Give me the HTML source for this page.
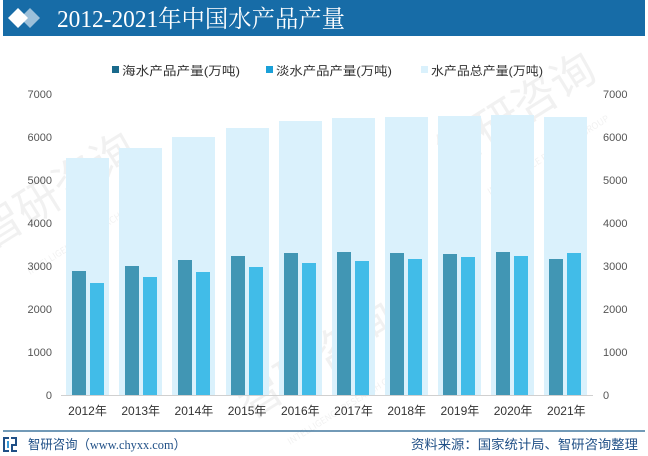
<!DOCTYPE html>
<html><head><meta charset="utf-8"><style>
html,body{margin:0;padding:0;background:#fff;}
body{width:648px;height:456px;overflow:hidden;}
svg{display:block;}
.t{font-family:"Liberation Sans","Noto Sans CJK SC",sans-serif;}
</style></head><body>
<svg width="648" height="456" viewBox="0 0 648 456" xmlns="http://www.w3.org/2000/svg">
<rect x="0" y="0" width="648" height="456" fill="#fff"/>
<!-- header -->
<rect x="3" y="0" width="642" height="36" fill="#176ca7"/>
<polygon points="30,8 40,18 30,28 20,18" fill="#9cc0da"/>
<polygon points="18,8 28,18 18,28 8,18" fill="#ffffff"/>
<text x="57" y="27" font-family="'Liberation Serif','Noto Serif CJK SC',serif" font-size="24" fill="#fff" textLength="288" lengthAdjust="spacingAndGlyphs">2012-2021年中国水产品产量</text>

<!-- watermarks -->
<g opacity="0.07" font-family="'Noto Sans CJK SC',sans-serif" fill="#333">
<text x="0" y="0" font-size="44" transform="translate(-10,250) rotate(-32)">智研咨询</text>
<text x="0" y="0" font-size="9" transform="translate(30,275) rotate(-32)">INTELLIGENCE RESEARCH GROUP</text>
<text x="0" y="0" font-size="44" transform="translate(250,420) rotate(-32)">智研咨询</text>
<text x="0" y="0" font-size="9" transform="translate(290,445) rotate(-32)">INTELLIGENCE RESEARCH GROUP</text>
<text x="0" y="0" font-size="44" transform="translate(450,170) rotate(-32)">智研咨询</text>
<text x="0" y="0" font-size="9" transform="translate(490,195) rotate(-32)">INTELLIGENCE RESEARCH GROUP</text>
</g>

<!-- legend -->
<g class="t" font-size="12" fill="#333">
<rect x="112" y="66" width="7" height="7" fill="#1a6a8c"/>
<text x="122" y="75" textLength="118" lengthAdjust="spacingAndGlyphs">海水产品产量(万吨)</text>
<rect x="266" y="66" width="7" height="7" fill="#1aa0d8"/>
<text x="276" y="75" textLength="116" lengthAdjust="spacingAndGlyphs">淡水产品产量(万吨)</text>
<rect x="421" y="66" width="7" height="7" fill="#daf1fc"/>
<text x="431" y="75" textLength="112" lengthAdjust="spacingAndGlyphs">水产品总产量(万吨)</text>
</g>

<!-- axis labels -->
<g class="t" font-size="11" fill="#555">
<g text-anchor="end">
<text x="52" y="98">7000</text>
<text x="52" y="141">6000</text>
<text x="52" y="184">5000</text>
<text x="52" y="227">4000</text>
<text x="52" y="270">3000</text>
<text x="52" y="313">2000</text>
<text x="52" y="356">1000</text>
<text x="52" y="399">0</text>
</g>
<text x="603" y="98">7000</text>
<text x="603" y="141">6000</text>
<text x="603" y="184">5000</text>
<text x="603" y="227">4000</text>
<text x="603" y="270">3000</text>
<text x="603" y="313">2000</text>
<text x="603" y="356">1000</text>
<text x="603" y="399">0</text>
</g>

<!-- bars -->
<g id="bars">
<!-- light totals -->
<g fill="#daf1fc">
<rect x="66" y="158" width="43" height="237"/>
<rect x="119" y="148" width="43" height="247"/>
<rect x="172" y="137" width="43" height="258"/>
<rect x="226" y="128" width="43" height="267"/>
<rect x="279" y="121" width="43" height="274"/>
<rect x="332" y="118" width="43" height="277"/>
<rect x="385" y="117" width="43" height="278"/>
<rect x="438" y="116" width="43" height="279"/>
<rect x="491" y="115" width="43" height="280"/>
<rect x="544" y="117" width="43" height="278"/>
</g>
<g fill="#4196b4">
<rect x="72" y="271" width="14" height="124"/>
<rect x="125" y="266" width="14" height="129"/>
<rect x="178" y="260" width="14" height="135"/>
<rect x="231" y="256" width="14" height="139"/>
<rect x="284" y="253" width="14" height="142"/>
<rect x="337" y="252" width="14" height="143"/>
<rect x="390" y="253" width="14" height="142"/>
<rect x="443" y="254" width="14" height="141"/>
<rect x="496" y="252" width="14" height="143"/>
<rect x="549" y="259" width="14" height="136"/>
</g>
<g fill="#41bce8">
<rect x="90" y="283" width="14" height="112"/>
<rect x="143" y="277" width="14" height="118"/>
<rect x="196" y="272" width="14" height="123"/>
<rect x="249" y="267" width="14" height="128"/>
<rect x="302" y="263" width="14" height="132"/>
<rect x="355" y="261" width="14" height="134"/>
<rect x="408" y="259" width="14" height="136"/>
<rect x="461" y="257" width="14" height="138"/>
<rect x="514" y="256" width="14" height="139"/>
<rect x="567" y="253" width="14" height="142"/>
</g>
</g>
<line x1="61" y1="395.5" x2="593" y2="395.5" stroke="#d0d0d0" stroke-width="1"/>

<!-- x labels -->
<g class="t" font-size="12" fill="#333" text-anchor="middle">
<text x="87.5" y="415">2012年</text>
<text x="140.7" y="415">2013年</text>
<text x="193.9" y="415">2014年</text>
<text x="247.1" y="415">2015年</text>
<text x="300.3" y="415">2016年</text>
<text x="353.5" y="415">2017年</text>
<text x="406.7" y="415">2018年</text>
<text x="459.9" y="415">2019年</text>
<text x="513.1" y="415">2020年</text>
<text x="566.3" y="415">2021年</text>
</g>

<!-- footer -->
<line x1="3" y1="431" x2="645" y2="431" stroke="#1e5d8c" stroke-width="1.2"/>
<g fill="#1f4f86">
<rect x="3" y="437" width="6" height="2"/>
<rect x="3" y="437" width="2" height="15"/>
<rect x="3" y="450" width="6" height="2"/>
<rect x="11" y="437" width="6" height="2"/>
<rect x="15" y="437" width="2" height="9"/>
<rect x="11" y="444" width="6" height="2"/>
<rect x="11" y="444" width="2" height="8"/>
<rect x="11" y="450" width="6" height="2"/>
<rect x="7" y="441" width="2" height="7" fill="#3a9ad8"/>
</g>
<text x="28" y="449" font-family="'Liberation Serif','Noto Sans CJK SC',serif" font-size="13" fill="#1f4f86" textLength="158" lengthAdjust="spacingAndGlyphs">智研咨询（www.chyxx.com）</text>
<text x="411" y="449" class="t" font-size="13" fill="#1f4f86" textLength="227" lengthAdjust="spacingAndGlyphs">资料来源：国家统计局、智研咨询整理</text>
</svg>
</body></html>
